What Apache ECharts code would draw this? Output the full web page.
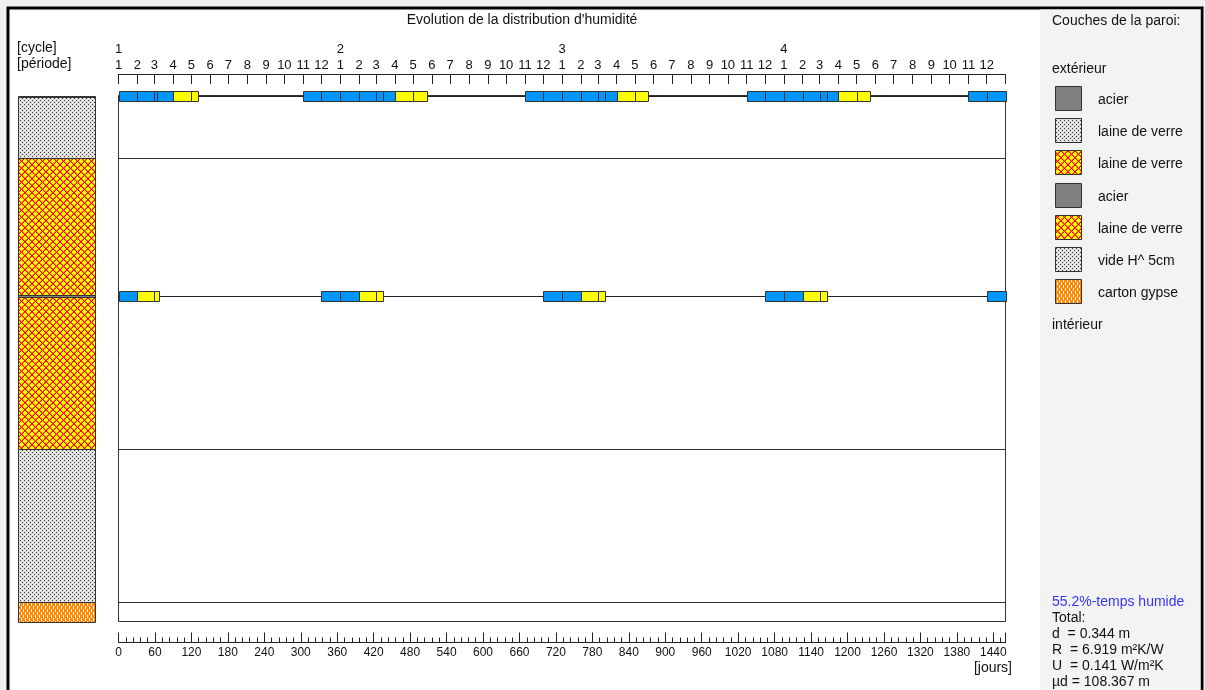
<!DOCTYPE html>
<html>
<head>
<meta charset="utf-8">
<script src="https://cdn.jsdelivr.net/npm/echarts@6/dist/echarts.min.js"></script>
<style>
  html, body { margin: 0; padding: 0; background: #f0f0f0; }
  #chart { width: 1205px; height: 690px; }
</style>
</head>
<body>
<div id="chart"></div>
<script>
// Wall layers, from exterior to interior (thickness in mm)
const layerNames = ['acier', 'laine de verre', 'laine de verre', 'acier', 'laine de verre', 'vide H^ 5cm', 'carton gypse'];
const layerThickness = [0.75, 40, 90, 0.75, 100, 100, 12.5];
const layerFill = ['steel', 'dots', 'hatch', 'steel', 'hatch', 'dots', 'gypsum'];

// Calendar used by the period axis
const monthLengths = [31, 28, 31, 30, 31, 30, 31, 31, 30, 31, 30, 31];
const periodLabels = ['1', '2', '3', '4', '5', '6', '7', '8', '9', '10', '11', '12'];
const cycleLabels = ['1', '2', '3', '4'];
const dayLabels = [0, 60, 120, 180, 240, 300, 360, 420, 480, 540, 600, 660, 720, 780, 840, 900, 960, 1020, 1080, 1140, 1200, 1260, 1320, 1380, 1440];

// Humid periods at the steel sheets: [start day, end day, phase (0 = blue, 1 = yellow)]
const humidOuterSteel = [
  [0, 31, 0], [31, 59, 0], [59, 63, 0], [63, 90, 0], [90, 120, 1], [120, 131, 1],
  [304, 334, 0], [334, 365, 0], [365, 396, 0], [396, 424, 0], [424, 436, 0], [436, 455, 0], [455, 485, 1], [485, 507, 1],
  [669, 699, 0], [699, 730, 0], [730, 761, 0], [761, 789, 0], [789, 801, 0], [801, 820, 0], [820, 850, 1], [850, 872, 1],
  [1034, 1064, 0], [1064, 1095, 0], [1095, 1126, 0], [1126, 1154, 0], [1154, 1166, 0], [1166, 1185, 0], [1185, 1215, 1], [1215, 1237, 1],
  [1399, 1429, 0], [1429, 1460, 0]
];
const humidInnerSteel = [
  [0, 31, 0], [31, 59, 1], [59, 67, 1],
  [334, 365, 0], [365, 396, 0], [396, 424, 1], [424, 436, 1],
  [699, 730, 0], [730, 761, 0], [761, 789, 1], [789, 801, 1],
  [1064, 1095, 0], [1095, 1126, 0], [1126, 1154, 1], [1154, 1166, 1],
  [1429, 1460, 0]
];

const humidShare = '55.2%-temps humide';
const summaryLines = ['Total:', 'd  = 0.344 m', 'R  = 6.919 m²K/W', 'U  = 0.141 W/m²K', 'µd = 108.367 m'];

const FONT_FAMILY = '"Liberation Sans", Arial, sans-serif';
const FONT = '14px ' + FONT_FAMILY;
const TEXT_COLOR = '#111';
const LINE_COLOR = '#222';
const phaseColors = ['#0096ff', '#ffff00'];

// Hatch / dot fills of the wall section, drawn pixel by pixel
function makePattern(kind) {
  if (kind === 'steel') return '#808080';
  const c = document.createElement('canvas');
  let ctx;
  if (kind === 'dots') {
    c.width = 4; c.height = 4; ctx = c.getContext('2d');
    ctx.fillStyle = '#dcdcdc'; ctx.fillRect(0, 0, 4, 4);
    ctx.fillStyle = '#3a3a3a'; ctx.fillRect(0, 0, 1, 1); ctx.fillRect(2, 2, 1, 1);
    ctx.fillStyle = '#ffffff'; ctx.fillRect(2, 0, 1, 1); ctx.fillRect(0, 2, 1, 1);
  } else if (kind === 'hatch') {
    const n = 7;
    c.width = n; c.height = n; ctx = c.getContext('2d');
    for (let y = 0; y < n; y++) {
      for (let x = 0; x < n; x++) {
        const d1 = ((x - y) % n + n) % n;
        const d2 = (x + y) % n;
        let col = '#ffff00';
        if (d1 === 0 || d2 === 0) col = '#ff0000';
        else if (d1 === 1 || d2 === n - 1) col = '#ff7a00';
        ctx.fillStyle = col;
        ctx.fillRect(x, y, 1, 1);
      }
    }
  } else if (kind === 'gypsum') {
    c.width = 4; c.height = 6; ctx = c.getContext('2d');
    ctx.fillStyle = '#ff8a00'; ctx.fillRect(0, 0, 4, 6);
    ctx.fillStyle = '#ffffff'; ctx.fillRect(1, 0, 1, 3); ctx.fillRect(3, 3, 1, 3);
  }
  return { type: 'pattern', image: c, repeat: 'repeat' };
}
const fills = {
  steel: makePattern('steel'),
  dots: makePattern('dots'),
  hatch: makePattern('hatch'),
  gypsum: makePattern('gypsum')
};

// Layer geometry
function depthBefore(i) {
  let s = 0;
  for (let k = 0; k < i; k++) s += layerThickness[k];
  return s;
}
const wallDepth = depthBefore(layerThickness.length);
const layerData = layerThickness.map((t, i) => [0, 1, depthBefore(i), depthBefore(i) + t, i]);
const steelRows = [0, 3].map(i => depthBefore(i) + layerThickness[i] / 2);
const boundaryDepths = [];
for (let i = 1; i < layerThickness.length; i++) {
  if (layerFill[i - 1] !== 'steel' && layerFill[i] !== 'steel') boundaryDepths.push([depthBefore(i)]);
}

// Period / cycle ticks
const periodStarts = [];
const periodText = {};
const cycleStarts = [];
const cycleText = {};
let day = 0;
cycleLabels.forEach((cl) => {
  cycleStarts.push(day);
  cycleText[day] = cl;
  monthLengths.forEach((len, m) => {
    periodStarts.push(day);
    periodText[day] = periodLabels[m];
    day += len;
  });
});
const dayMax = day;
const periodTicks = periodStarts.concat([dayMax]);
const majorTicks = dayLabels.concat([dayMax]);
const minorTicks = [];
for (let d = 12; d < dayMax; d += 12) if (d % 60 !== 0) minorTicks.push(d);

const barData = [];
humidOuterSteel.forEach(s => barData.push([s[0], s[1], steelRows[0], s[2]]));
humidInnerSteel.forEach(s => barData.push([s[0], s[1], steelRows[1], s[2]]));

const labelStyle = { fontSize: 13, fontFamily: FONT_FAMILY, color: TEXT_COLOR };
const dayLabelStyle = { fontSize: 12, fontFamily: FONT_FAMILY, color: TEXT_COLOR };

function label(text, x, y, align, color) {
  return { type: 'text', x: x, y: y, style: { text: text, font: FONT, fill: color || TEXT_COLOR, textAlign: align || 'left', textVerticalAlign: 'middle' } };
}

// Frame, title and right-hand layer panel
const legendTop = 86;
const legendStep = 32.2;
const graphics = [
  { type: 'rect', z: -10, shape: { x: 8, y: 8, width: 1194, height: 700 }, style: { fill: '#ffffff', stroke: '#000', lineWidth: 3 } },
  { type: 'rect', z: -9, shape: { x: 1040, y: 9.5, width: 160.5, height: 700 }, style: { fill: '#f3f3f3' } },
  label('Evolution de la distribution d\'humidité', 522, 20, 'center'),
  label('[cycle]', 17, 48),
  label('[période]', 17, 64),
  label('[jours]', 1012, 668, 'right'),
  label('Couches de la paroi:', 1052, 21),
  label('extérieur', 1052, 69),
  label('intérieur', 1052, 325),
  label(humidShare, 1052, 602, 'left', '#3434ff')
];
layerNames.forEach((name, i) => {
  const top = Math.round(legendTop + i * legendStep) + 0.5;
  graphics.push({ type: 'rect', shape: { x: 1055.5, y: top, width: 26, height: 24 }, style: { fill: fills[layerFill[i]], stroke: '#333', lineWidth: 1 } });
  graphics.push(label(name, 1098, top + 13.5));
});
summaryLines.forEach((line, i) => {
  graphics.push(label(line, 1052, 618 + i * 16.1));
});

const chart = echarts.init(document.getElementById('chart'), null, { renderer: 'canvas' });

chart.setOption({
  animation: false,
  backgroundColor: 'transparent',
  graphic: { elements: graphics },
  grid: [
    { left: 118.5, top: 95.5, width: 887, height: 526, show: true, borderColor: '#333', borderWidth: 1, backgroundColor: 'transparent' },
    { left: 17.5, top: 95.5, width: 77.5, height: 526 }
  ],
  xAxis: [
    {
      gridIndex: 0, type: 'value', min: 0, max: dayMax, position: 'bottom', offset: 21,
      axisLine: { onZero: false, lineStyle: { color: LINE_COLOR, width: 1 } },
      axisTick: { inside: true, length: 10, customValues: majorTicks, lineStyle: { color: LINE_COLOR } },
      axisLabel: Object.assign({ customValues: dayLabels, margin: 4, formatter: v => String(v) }, dayLabelStyle),
      splitLine: { show: false }
    },
    {
      gridIndex: 0, type: 'value', min: 0, max: dayMax, position: 'bottom', offset: 21,
      axisLine: { show: false, onZero: false },
      axisTick: { inside: true, length: 5, customValues: minorTicks, lineStyle: { color: LINE_COLOR } },
      axisLabel: { show: false },
      splitLine: { show: false }
    },
    {
      gridIndex: 0, type: 'value', min: 0, max: dayMax, position: 'top', offset: 21.5,
      axisLine: { onZero: false, lineStyle: { color: LINE_COLOR, width: 1 } },
      axisTick: { inside: true, length: 10, customValues: periodTicks, lineStyle: { color: LINE_COLOR } },
      axisLabel: Object.assign({ customValues: periodStarts, margin: 2, formatter: v => periodText[v] }, labelStyle),
      splitLine: { show: false }
    },
    {
      gridIndex: 0, type: 'value', min: 0, max: dayMax, position: 'top', offset: 37.5,
      axisLine: { show: false, onZero: false },
      axisTick: { show: false },
      axisLabel: Object.assign({ customValues: cycleStarts, margin: 2, formatter: v => cycleText[v] }, labelStyle),
      splitLine: { show: false }
    },
    { gridIndex: 1, type: 'value', min: 0, max: 1, show: false }
  ],
  yAxis: [
    { gridIndex: 0, type: 'value', inverse: true, min: 0, max: wallDepth, show: false },
    { gridIndex: 1, type: 'value', inverse: true, min: 0, max: wallDepth, show: false }
  ],
  series: [
    {
      // wall cross-section
      type: 'custom', xAxisIndex: 4, yAxisIndex: 1, z: 3,
      data: layerData,
      encode: { x: [0, 1], y: [2, 3] },
      renderItem(params, api) {
        const a = api.coord([api.value(0), api.value(2)]);
        const b = api.coord([api.value(1), api.value(3)]);
        const y0 = Math.round(a[1]) + 0.5;
        const h = Math.max(Math.round(b[1]) - Math.round(a[1]), 1);
        return {
          type: 'rect',
          shape: { x: Math.round(a[0]) + 0.5, y: y0, width: Math.round(b[0]) - Math.round(a[0]), height: h },
          style: { fill: fills[layerFill[api.value(4)]], stroke: '#333', lineWidth: 1 }
        };
      }
    },
    {
      // layer boundaries across the plot
      type: 'custom', xAxisIndex: 0, yAxisIndex: 0, z: 2,
      data: boundaryDepths,
      encode: { y: 0 },
      renderItem(params, api) {
        const a = api.coord([0, api.value(0)]);
        const b = api.coord([dayMax, api.value(0)]);
        const y = Math.round(a[1]) + 0.5;
        return { type: 'line', shape: { x1: a[0], y1: y, x2: b[0], y2: y }, style: { stroke: '#333', lineWidth: 1 } };
      }
    },
    {
      // time line of each steel sheet
      type: 'custom', xAxisIndex: 0, yAxisIndex: 0, z: 3,
      data: steelRows.map(d => [d]),
      encode: { y: 0 },
      renderItem(params, api) {
        const a = api.coord([0, api.value(0)]);
        const b = api.coord([dayMax, api.value(0)]);
        const y = Math.round(a[1]) + 0.5;
        return { type: 'line', shape: { x1: a[0], y1: y, x2: b[0], y2: y }, style: { stroke: '#222', lineWidth: 1 } };
      }
    },
    {
      // humid periods
      type: 'custom', xAxisIndex: 0, yAxisIndex: 0, z: 5,
      data: barData,
      encode: { x: [0, 1], y: 2 },
      renderItem(params, api) {
        const a = api.coord([api.value(0), api.value(2)]);
        const b = api.coord([api.value(1), api.value(2)]);
        const h = 10;
        const x0 = Math.round(a[0]);
        const x1 = Math.round(b[0]);
        return {
          type: 'rect',
          shape: { x: x0 + 0.5, y: Math.round(a[1] - h / 2) + 0.5, width: x1 - x0, height: h },
          style: { fill: phaseColors[api.value(3)], stroke: '#333', lineWidth: 1 }
        };
      }
    }
  ]
});
</script>
</body>
</html>
